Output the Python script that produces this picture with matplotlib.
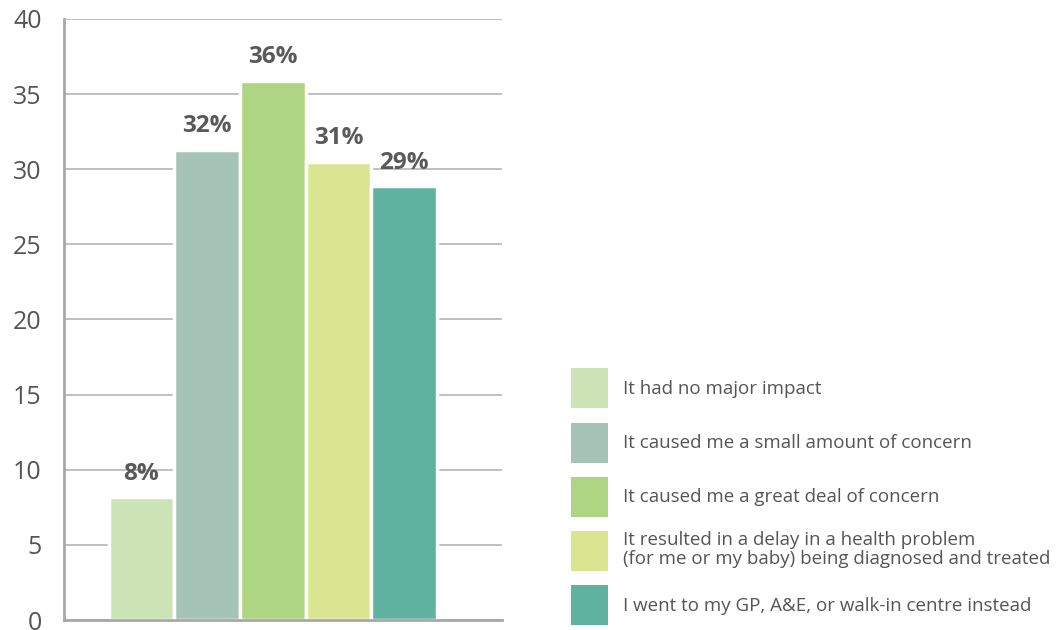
import matplotlib
matplotlib.use("Agg")
import matplotlib.pyplot as plt

plt.rcParams['font.family'] = ['Open Sans', 'DejaVu Sans']

labels = ['It had no major impact',
          'It caused me a small amount of concern',
          'It caused me a great deal of concern',
          'It resulted in a delay in a health problem\n(for me or my baby) being diagnosed and treated',
          'I went to my GP, A&E, or walk-in centre instead']
values = [8.2, 31.3, 35.9, 30.5, 28.9]
pct_text = ['8%', '32%', '36%', '31%', '29%']
colors = ['#cce3b6', '#a5c4b7', '#add582', '#d9e591', '#5fb2a0']

fig = plt.figure(figsize=(10.59, 6.3), dpi=100)
ax = fig.add_axes([64/1059, 10/630, 438/1059, 601/630])

x = range(len(values))
bars = ax.bar(x, values, width=1.0, color=colors, edgecolor='white', linewidth=2.5, zorder=2)

for i, (v, t) in enumerate(zip(values, pct_text)):
    ax.text(i, v + 0.75, t, ha='center', va='bottom', fontsize=17.5, fontweight='bold', color='#595959')

ax.set_xlim(-1.18, 5.49)
ax.set_ylim(0, 40)
ax.set_yticks(range(0, 41, 5))
ax.set_xticks([])
ax.yaxis.grid(True, color='#b5b5b5', linewidth=1.2, zorder=0)
ax.set_axisbelow(True)
ax.tick_params(axis='y', length=0, labelsize=18, labelcolor='#555555', pad=16)
for s in ['top', 'right']:
    ax.spines[s].set_visible(False)
for s in ['left', 'bottom']:
    ax.spines[s].set_color('#a8a8a8')
    ax.spines[s].set_linewidth(2)

leg = ax.legend(bars, labels, loc='lower left', bbox_to_anchor=(554/1059, -12/630),
                bbox_transform=fig.transFigure, frameon=False, fontsize=13.5,
                handlelength=2.0, handleheight=2.9, labelspacing=0.76, handletextpad=0.8,
                labelcolor='#555555')
for h in leg.legend_handles:
    h.set_linewidth(0)
for t in leg.get_texts():
    t.set_linespacing(1.05)

fig.savefig('out.png', dpi=100)
